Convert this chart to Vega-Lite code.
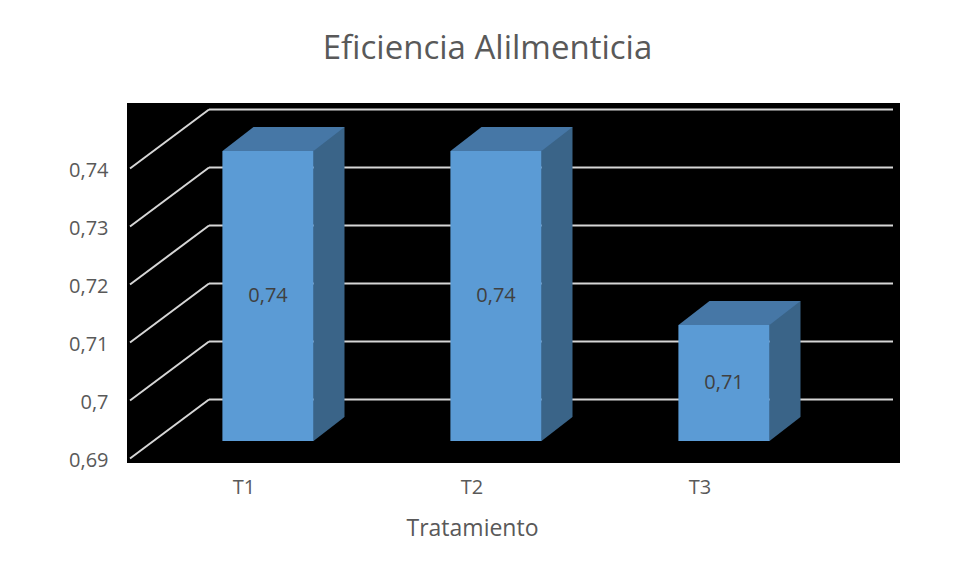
{
  "$schema": "https://vega.github.io/schema/vega-lite/v6.json",
  "width": 773,
  "height": 360,
  "autosize": {"type": "none"},
  "padding": {"left": 127, "top": 103, "right": 54, "bottom": 112},
  "background": "white",
  "config": {
    "view": {"fill": "black", "stroke": null},
    "font": "Open Sans",
    "locale": {"number": {"decimal": ",", "thousands": ".", "grouping": [3], "currency": ["", " €"]}}
  },
  "title": {
    "text": "Eficiencia Alilmenticia",
    "font": "Open Sans",
    "fontSize": 33,
    "fontWeight": "normal",
    "color": "#595959",
    "anchor": "middle",
    "frame": "group",
    "dx": -26,
    "baseline": "alphabetic",
    "offset": 11
  },
  "datasets": {
    "grid": [{"v": 0.69}, {"v": 0.7}, {"v": 0.71}, {"v": 0.72}, {"v": 0.73}, {"v": 0.74}],
    "bars": [
      {"tratamiento": "T1", "eficiencia": 0.74},
      {"tratamiento": "T2", "eficiencia": 0.74},
      {"tratamiento": "T3", "eficiencia": 0.71}
    ]
  },
  "layer": [
    {
      "data": {"name": "grid"},
      "encoding": {
        "x": {"datum": 0, "type": "quantitative", "scale": {"domain": [0, 1], "range": [3, 82]}, "axis": null},
        "y": {
          "field": "v",
          "type": "quantitative",
          "scale": {"domain": [0.686207, 0.748276], "nice": false, "zero": false},
          "axis": {
            "values": [0.69, 0.7, 0.71, 0.72, 0.73, 0.74],
            "format": ".2~f",
            "domain": false,
            "ticks": false,
            "grid": false,
            "labelFont": "Open Sans",
            "labelFontSize": 20,
            "labelColor": "#595959",
            "labelPadding": 19,
            "labelOffset": 19,
            "title": null
          }
        }
      },
      "layer": [
        {
          "mark": {"type": "rule", "color": "#d6d6d6", "strokeWidth": 2, "yOffset": 17.5, "y2Offset": -41.5},
          "encoding": {
            "x2": {"datum": 1},
            "y2": {"field": "v"}
          }
        },
        {
          "mark": {"type": "rule", "color": "#d6d6d6", "strokeWidth": 2, "yOffset": -41.5, "x2Offset": -7},
          "encoding": {
            "x": {"datum": 1, "type": "quantitative", "scale": {"domain": [0, 1], "range": [3, 82]}, "axis": null},
            "x2": {"value": "width"}
          }
        }
      ]
    },
    {
      "data": {"name": "bars"},
      "encoding": {
        "x": {
          "field": "tratamiento",
          "type": "nominal",
          "scale": {"range": [3, 687], "paddingInner": 0.6, "paddingOuter": 0.3},
          "axis": {
            "domain": false,
            "ticks": false,
            "labelFont": "Open Sans",
            "labelFontSize": 20,
            "labelColor": "#595959",
            "labelPadding": 14,
            "labelAngle": 0,
            "title": "Tratamiento",
            "titleFont": "Open Sans",
            "titleFontSize": 23,
            "titleFontWeight": "normal",
            "titleColor": "#595959",
            "titlePadding": 20
          }
        },
        "y": {
          "field": "eficiencia",
          "type": "quantitative",
          "scale": {"domain": [0.686207, 0.748276], "nice": false, "zero": false},
          "axis": null
        }
      },
      "layer": [
        {
          "mark": {"type": "bar", "color": "#3A6488", "width": 31, "xOffset": 85, "yOffset": -24},
          "encoding": {"y2": {"datum": 0.69}}
        },
        {
          "mark": {"type": "point", "shape": "M0,0L1,-0.7742L1.05,-0.7742L1.05,0.05L0,0.05Z", "size": 3844, "filled": true, "color": "black", "opacity": 1, "strokeWidth": 0, "xOffset": 69.5},
          "encoding": {"y": {"datum": 0.69, "type": "quantitative", "scale": {"domain": [0.686207, 0.748276], "nice": false, "zero": false}, "axis": null}}
        },
        {
          "mark": {"type": "bar", "color": "#5B9BD5", "opacity": 1, "xOffset": 24},
          "encoding": {"y2": {"datum": 0.69}}
        },
        {
          "mark": {"type": "point", "shape": "M-1,0L0.4918,0L1,-0.3934L-0.4918,-0.3934Z", "size": 14884, "filled": true, "color": "#4677A6", "opacity": 1, "strokeWidth": 0, "xOffset": 39.5}
        }
      ]
    },
    {
      "data": {"name": "bars"},
      "mark": {"type": "text", "color": "#404040", "font": "Open Sans", "fontSize": 20, "baseline": "middle", "xOffset": 24},
      "encoding": {
        "x": {
          "field": "tratamiento",
          "type": "nominal",
          "scale": {"range": [3, 687], "paddingInner": 0.6, "paddingOuter": 0.3},
          "axis": null
        },
        "y": {
          "field": "eficiencia",
          "type": "quantitative",
          "scale": {"domain": [0.682414, 0.806552], "nice": false, "zero": false},
          "axis": null
        },
        "text": {"field": "eficiencia", "type": "quantitative", "format": ".2f"}
      }
    }
  ],
  "resolve": {"scale": {"x": "independent", "y": "independent"}}
}
